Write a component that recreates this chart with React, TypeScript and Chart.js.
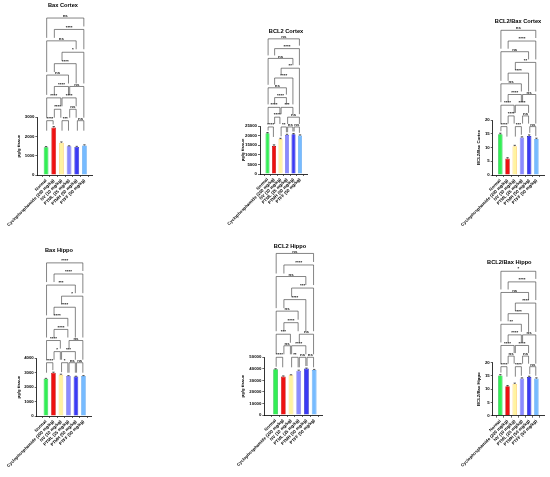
import React, { useEffect, useRef } from 'react';
import { Chart, registerables } from 'chart.js';

Chart.register(...registerables);

const FONT = '"Liberation Sans", Arial, sans-serif';

// ---------- data ----------
const groups = [
  'Normal',
  'Cyclophosphamide (200 mg/kg)',
  'NV (10 mg/kg)',
  'PTML (25 mg/kg)',
  'PTMH (50 mg/kg)',
  'PTFF (50 mg/kg)',
];

const fillColors = ['#33ee55', '#ee1111', '#fff3a0', '#8a8aff', '#3a3af5', '#77bbff'];
const borderColors = ['#18c040', '#c00000', '#ffc860', '#6a6ae8', '#1a1ab8', '#55a0ee'];

const baxCortex = [1440, 2470, 1680, 1490, 1460, 1540];
const baxCortexErr = [40, 50, 40, 30, 30, 30];
const bcl2Cortex = [21200, 14600, 18200, 20300, 20700, 20000];
const bcl2CortexErr = [400, 600, 400, 400, 400, 400];
const ratioCortex = [14.8, 6.0, 10.5, 13.6, 14.2, 13.1];
const ratioCortexErr = [0.4, 0.3, 0.3, 0.3, 0.4, 0.3];
const baxHippo = [2580, 3000, 2860, 2770, 2730, 2770];
const baxHippoErr = [30, 40, 40, 30, 30, 30];
const bcl2Hippo = [39600, 33400, 34400, 38400, 40200, 39000];
const bcl2HippoErr = [500, 500, 500, 500, 500, 500];
const ratioHippo = [15.2, 11.1, 12.0, 14.0, 14.6, 14.0];
const ratioHippoErr = [0.3, 0.3, 0.3, 0.3, 0.3, 0.3];

// [groupA, groupB, stacking level, label]
type Bracket = [number, number, number, string];

const baxCortexSig: Bracket[] = [
  [0, 1, 0, '****'], [2, 3, 0, '***'], [4, 5, 0, 'ns'],
  [1, 2, 1, '****'], [3, 4, 1, 'ns'],
  [0, 2, 2, '****'], [2, 4, 2, '****'],
  [1, 3, 3, '****'], [3, 5, 3, 'ns'],
  [0, 3, 4, 'ns'], [1, 4, 5, '****'], [2, 5, 6, '*'],
  [0, 4, 7, 'ns'], [1, 5, 8, '****'], [0, 5, 9, 'ns'],
];
const bcl2CortexSig: Bracket[] = [
  [0, 1, 0, '****'], [2, 3, 0, '**'], [3, 4, 0, 'ns'], [4, 5, 0, 'ns'],
  [1, 2, 1, '****'], [3, 5, 1, 'ns'],
  [0, 2, 2, '****'], [2, 4, 2, '***'],
  [1, 3, 3, '****'], [0, 3, 4, 'ns'], [1, 4, 5, '****'], [2, 5, 6, '**'],
  [0, 4, 7, 'ns'], [1, 5, 8, '****'], [0, 5, 9, 'ns'],
];
const ratioCortexSig: Bracket[] = [
  [0, 1, 0, '****'], [2, 3, 0, '***'], [4, 5, 0, 'ns'],
  [1, 2, 1, '****'], [3, 4, 1, 'ns'],
  [0, 2, 2, '****'], [2, 4, 2, '****'],
  [1, 3, 3, '****'], [3, 5, 3, 'ns'],
  [0, 3, 4, 'ns'], [1, 4, 5, '****'], [2, 5, 6, '**'],
  [0, 4, 7, 'ns'], [1, 5, 8, '****'], [0, 5, 9, 'ns'],
];
const baxHippoSig: Bracket[] = [
  [0, 1, 0, '****'], [2, 3, 0, '*'], [3, 4, 0, 'ns'], [4, 5, 0, 'ns'],
  [1, 2, 1, '*'], [2, 4, 1, '***'],
  [0, 2, 2, '****'], [3, 5, 2, 'ns'],
  [1, 3, 3, '****'], [0, 3, 4, '****'], [1, 4, 5, '****'], [2, 5, 6, '*'],
  [0, 4, 7, '***'], [1, 5, 8, '****'], [0, 5, 9, '****'],
];
const bcl2HippoSig: Bracket[] = [
  [0, 1, 0, '****'], [2, 3, 0, '**'], [3, 4, 0, 'ns'], [4, 5, 0, 'ns'],
  [1, 2, 1, 'ns'], [2, 4, 1, '****'],
  [0, 2, 2, '***'], [3, 5, 2, 'ns'],
  [1, 3, 3, '****'], [0, 3, 4, 'ns'], [1, 4, 5, '****'], [2, 5, 6, '***'],
  [0, 4, 7, 'ns'], [1, 5, 8, '****'], [0, 5, 9, 'ns'],
];
const ratioHippoSig: Bracket[] = [
  [0, 1, 0, '****'], [2, 3, 0, '****'], [4, 5, 0, 'ns'],
  [1, 2, 1, 'ns'], [3, 4, 1, 'ns'],
  [0, 2, 2, '****'], [2, 4, 2, '****'],
  [1, 3, 3, '****'], [3, 5, 3, 'ns'],
  [0, 3, 4, '**'], [1, 4, 5, '****'], [2, 5, 6, '****'],
  [0, 4, 7, 'ns'], [1, 5, 8, '****'], [0, 5, 9, '*'],
];

// ---------- layout ----------
type Panel = {
  title: string;
  yTitle: string;
  values: number[];
  errors: number[];
  sig: Bracket[];
  yMax: number;
  yStep: number;
  sigBase: number;
  sigStep: number;
  box: { left: number; top: number; width: number; height: number };
  area: { left: number; top: number; right: number; bottom: number };
  titleX: number;
  titleY: number;
  yTitleX: number;
  xMin: number;
};

const panels: Panel[] = [
  {
    title: 'Bax Cortex', yTitle: 'pg/g tissue', values: baxCortex, errors: baxCortexErr, sig: baxCortexSig,
    yMax: 3000, yStep: 1000, sigBase: 2824, sigStep: 593,
    box: { left: 0, top: 0, width: 120, height: 240 },
    area: { left: 37.3, top: 117.3, right: 92.9, bottom: 175 },
    titleX: 63, titleY: 5, yTitleX: 19, xMin: -0.54,
  },
  {
    title: 'BCL2 Cortex', yTitle: 'pg/g tissue', values: bcl2Cortex, errors: bcl2CortexErr, sig: bcl2CortexSig,
    yMax: 25000, yStep: 5000, sigBase: 24500, sigStep: 5100,
    box: { left: 200, top: 0, width: 140, height: 240 },
    area: { left: 260, top: 126, right: 307.2, bottom: 174 },
    titleX: 286, titleY: 31, yTitleX: 242.7, xMin: -0.55,
  },
  {
    title: 'BCL2/Bax Cortex', yTitle: 'BCL2/Bax Cortex', values: ratioCortex, errors: ratioCortexErr, sig: ratioCortexSig,
    yMax: 20, yStep: 5, sigBase: 17.6, sigStep: 3.89,
    box: { left: 420, top: 0, width: 130, height: 240 },
    area: { left: 492.7, top: 120, right: 544.3, bottom: 175 },
    titleX: 518, titleY: 21.5, yTitleX: 479, xMin: -0.46,
  },
  {
    title: 'Bax Hippo', yTitle: 'pg/g tissue', values: baxHippo, errors: baxHippoErr, sig: baxHippoSig,
    yMax: 4000, yStep: 1000, sigBase: 3694, sigStep: 769,
    box: { left: 0, top: 240, width: 120, height: 237 },
    area: { left: 36.7, top: 358.3, right: 91.8, bottom: 416 },
    titleX: 59, titleY: 250, yTitleX: 19, xMin: -0.62,
  },
  {
    title: 'BCL2 Hippo', yTitle: 'pg/g tissue', values: bcl2Hippo, errors: bcl2HippoErr, sig: bcl2HippoSig,
    yMax: 50000, yStep: 10000, sigBase: 50000, sigStep: 10000,
    box: { left: 200, top: 240, width: 140, height: 237 },
    area: { left: 264.3, top: 357.3, right: 322.9, bottom: 415 },
    titleX: 290, titleY: 246.7, yTitleX: 242.7, xMin: -0.83,
  },
  {
    title: 'BCL2/Bax Hippo', yTitle: 'BCL2/Bax Hippo', values: ratioHippo, errors: ratioHippoErr, sig: ratioHippoSig,
    yMax: 20, yStep: 5, sigBase: 18.5, sigStep: 4,
    box: { left: 420, top: 240, width: 130, height: 237 },
    area: { left: 492.7, top: 362.7, right: 544.3, bottom: 415.7 },
    titleX: 509.3, titleY: 262.7, yTitleX: 479.3, xMin: -0.46,
  },
];

const TICK_SIZE = 4.3;
const AXIS_TITLE_SIZE = 4.3;
const TITLE_SIZE = 5.7;
const SIG_SIZE = 4.4;
const LEG_GAP = 3;
const LEG_MIN = 2.5;
const LEG_MAX_BAR = 10;

function PanelChart({ p }: { p: Panel }) {
  const ref = useRef<HTMLCanvasElement>(null);

  useEffect(() => {
    const canvas = ref.current;
    if (!canvas) return;
    const { box, area } = p;
    const yTitleOffset = (AXIS_TITLE_SIZE * 1.2) / 2;
    const padL = p.yTitleX - box.left - yTitleOffset;
    const yWidth = area.left - box.left - padL;
    const padT = area.top - box.top;
    const padR = box.width - (area.right - box.left);
    const xHeight = box.height - (area.bottom - box.top);

    const overlay = {
      id: 'sigOverlay',
      afterDatasetsDraw(chart: any) {
        const ctx = chart.ctx;
        const ys = chart.scales.y;
        const meta = chart.getDatasetMeta(0);
        ctx.save();
        ctx.strokeStyle = '#000';
        ctx.lineWidth = 0.6;
        meta.data.forEach((bar: any, i: number) => {
          const x = bar.x;
          const y0 = ys.getPixelForValue(p.values[i]);
          const y1 = ys.getPixelForValue(p.values[i] + p.errors[i]);
          ctx.beginPath();
          ctx.moveTo(x, y0);
          ctx.lineTo(x, y1);
          ctx.moveTo(x - 1.2, y1);
          ctx.lineTo(x + 1.2, y1);
          ctx.stroke();
        });
        ctx.restore();
      },
      afterDraw(chart: any) {
        const ctx = chart.ctx;
        const xs = chart.scales.x;
        const ys = chart.scales.y;
        const levelY = (lvl: number) => ys.getPixelForValue(p.sigBase + lvl * p.sigStep);
        // leg reaches down towards the next lower bracket spanning that group, or the bar
        const legFor = (g: number, lvl: number, y: number) => {
          let lower = -1;
          for (const [a2, b2, l2] of p.sig) {
            if (l2 < lvl && a2 <= g && g <= b2 && l2 > lower) lower = l2;
          }
          if (lower >= 0) {
            return Math.max(LEG_MIN, levelY(lower) - y - LEG_GAP);
          }
          const barTop = ys.getPixelForValue(p.values[g] + p.errors[g]);
          return Math.max(LEG_MIN, Math.min(LEG_MAX_BAR, barTop - y - 2));
        };
        ctx.save();
        ctx.strokeStyle = '#333';
        ctx.fillStyle = '#111';
        ctx.lineWidth = 0.6;
        ctx.font = `bold ${SIG_SIZE}px ${FONT}`;
        ctx.textAlign = 'center';
        ctx.textBaseline = 'alphabetic';
        for (const [a, b, lvl, txt] of p.sig) {
          const y = levelY(lvl);
          const x1 = xs.getPixelForValue(a) + 0.6;
          const x2 = xs.getPixelForValue(b) - 0.6;
          const l1 = legFor(a, lvl, y);
          const l2 = legFor(b, lvl, y);
          ctx.beginPath();
          ctx.moveTo(x1, y + l1);
          ctx.lineTo(x1, y);
          ctx.lineTo(x2, y);
          ctx.lineTo(x2, y + l2);
          ctx.stroke();
          ctx.fillText(txt, (x1 + x2) / 2, y - 0.9);
        }
        ctx.fillStyle = '#000';
        ctx.font = `bold ${TITLE_SIZE}px ${FONT}`;
        ctx.textBaseline = 'middle';
        ctx.fillText(p.title, p.titleX - box.left, p.titleY - box.top);
        ctx.restore();
      },
    };

    const chart = new Chart(canvas, {
      type: 'bar',
      data: {
        datasets: [
          {
            data: p.values.map((v, i) => ({ x: i, y: v })),
            backgroundColor: fillColors,
            borderColor: borderColors,
            borderWidth: 0.7,
            barPercentage: 0.62,
            categoryPercentage: 1,
          },
        ],
      },
      options: {
        responsive: false,
        animation: false,
        events: [],
        layout: { padding: { left: padL, right: padR, top: padT, bottom: 0 } },
        plugins: {
          legend: { display: false },
          title: { display: false },
          tooltip: { enabled: false },
        },
        scales: {
          x: {
            type: 'linear',
            min: p.xMin,
            max: 5.5,
            afterBuildTicks: (s: any) => {
              s.ticks = groups.map((_, i) => ({ value: i }));
            },
            afterFit: (s: any) => {
              s.height = xHeight;
            },
            grid: {
              display: true,
              drawOnChartArea: false,
              drawTicks: true,
              tickLength: 2,
              tickWidth: 0.6,
              tickColor: '#000',
            },
            border: { display: true, color: '#000', width: 0.8 },
            ticks: {
              autoSkip: false,
              minRotation: 45,
              maxRotation: 45,
              padding: 1,
              color: '#000',
              font: { family: FONT, size: TICK_SIZE, weight: 'bold' },
              callback: (v: any) => groups[Math.round(Number(v))] ?? '',
            },
          },
          y: {
            type: 'linear',
            min: 0,
            max: p.yMax,
            afterFit: (s: any) => {
              s.width = yWidth;
            },
            grid: {
              display: true,
              drawOnChartArea: false,
              drawTicks: true,
              tickLength: 2,
              tickWidth: 0.6,
              tickColor: '#000',
            },
            border: { display: true, color: '#000', width: 0.8 },
            ticks: {
              stepSize: p.yStep,
              padding: 1,
              color: '#000',
              font: { family: FONT, size: TICK_SIZE, weight: 'bold' },
              callback: (v: any) => String(v),
            },
            title: {
              display: true,
              text: p.yTitle,
              color: '#000',
              padding: 0,
              font: { family: FONT, size: AXIS_TITLE_SIZE, weight: 'bold' },
            },
          },
        },
      } as any,
      plugins: [overlay],
    });
    return () => chart.destroy();
  }, [p]);

  return (
    <canvas
      ref={ref}
      width={p.box.width}
      height={p.box.height}
      style={{
        position: 'absolute',
        left: p.box.left,
        top: p.box.top,
        width: p.box.width,
        height: p.box.height,
      }}
    />
  );
}

export default function App() {
  return (
    <div style={{ position: 'absolute', left: 0, top: 0, width: 550, height: 477, background: '#fff' }}>
      {panels.map((p) => (
        <PanelChart key={p.title} p={p} />
      ))}
    </div>
  );
}
